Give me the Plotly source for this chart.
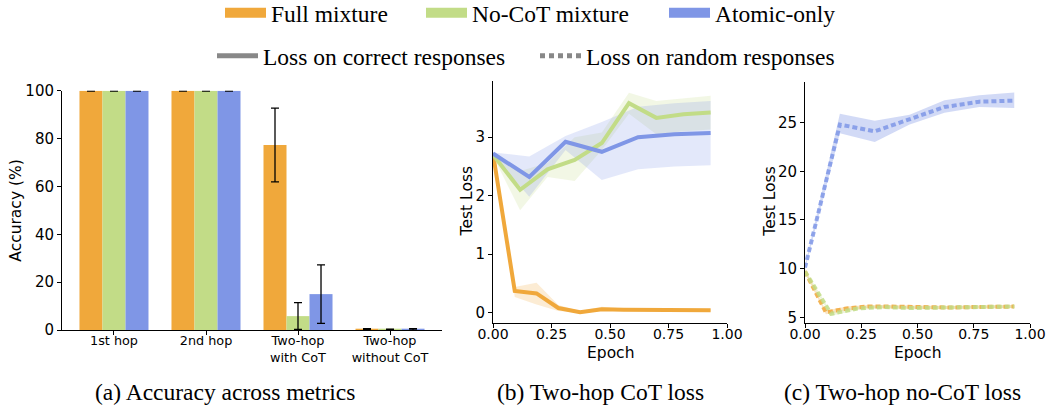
import plotly.graph_objects as go

# ---------------- data ----------------
categories = ["1st hop", "2nd hop", "Two-hop<br>with CoT", "Two-hop<br>without CoT"]
acc_full = [100.0, 100.0, 77.3, 0.3]
acc_full_err = [0.2, 0.2, 15.4, 0.3]
acc_nocot = [100.0, 100.0, 5.8, 0.2]
acc_nocot_err = [0.2, 0.2, 5.6, 0.2]
acc_atomic = [100.0, 100.0, 15.0, 0.25]
acc_atomic_err = [0.2, 0.2, 12.2, 0.3]

x_full = [0, 0.093, 0.186, 0.279, 0.372, 0.465, 0.558, 0.651, 0.744, 0.837, 0.93]
x_nocot = [0, 0.116, 0.233, 0.349, 0.465, 0.581, 0.698, 0.814, 0.93]
x_atomic = [0, 0.155, 0.31, 0.465, 0.62, 0.775, 0.93]

# (b) Two-hop CoT loss (loss on correct responses)
cot_full = [2.72, 0.37, 0.33, 0.08, 0.01, 0.06, 0.05, 0.05, 0.04, 0.04, 0.04]
cot_full_lo = [2.70, 0.27, 0.14, 0.03, 0.00, 0.03, 0.03, 0.03, 0.02, 0.02, 0.02]
cot_full_hi = [2.74, 0.44, 0.51, 0.13, 0.03, 0.10, 0.07, 0.07, 0.06, 0.06, 0.06]
cot_nocot = [2.70, 2.10, 2.45, 2.61, 2.90, 3.58, 3.33, 3.39, 3.42]
cot_nocot_lo = [2.68, 1.75, 2.32, 2.25, 2.78, 3.40, 3.05, 3.10, 3.13]
cot_nocot_hi = [2.72, 2.42, 2.56, 3.00, 3.08, 3.76, 3.62, 3.67, 3.71]
cot_atomic = [2.72, 2.32, 2.92, 2.75, 3.00, 3.05, 3.07]
cot_atomic_lo = [2.70, 1.98, 2.78, 2.27, 2.45, 2.50, 2.52]
cot_atomic_hi = [2.74, 2.67, 3.02, 3.26, 3.52, 3.58, 3.62]

# (c) Two-hop no-CoT loss (loss on random responses)
noc_full = [9.7, 5.5, 5.9, 6.1, 6.1, 6.05, 6.0, 6.0, 6.05, 6.05, 6.1]
noc_full_lo = [9.5, 5.3, 5.7, 5.95, 5.95, 5.9, 5.85, 5.85, 5.9, 5.9, 5.95]
noc_full_hi = [9.9, 5.7, 6.1, 6.25, 6.25, 6.2, 6.15, 6.15, 6.2, 6.2, 6.25]
noc_nocot = [9.7, 5.35, 5.9, 6.05, 5.95, 6.0, 6.05, 6.05, 6.1]
noc_nocot_lo = [9.5, 5.15, 5.75, 5.9, 5.8, 5.85, 5.9, 5.9, 5.95]
noc_nocot_hi = [9.9, 5.55, 6.05, 6.2, 6.1, 6.15, 6.2, 6.2, 6.25]
noc_atomic = [10.1, 24.8, 24.1, 25.3, 26.6, 27.15, 27.25]
noc_atomic_lo = [9.9, 23.9, 23.0, 24.8, 26.0, 26.6, 26.5]
noc_atomic_hi = [10.3, 25.9, 25.2, 25.8, 27.3, 27.8, 28.1]

series_names = ["Full mixture", "No-CoT mixture", "Atomic-only"]
style_names = ["Loss on correct responses", "Loss on random responses"]
y_ticks_a = [0, 20, 40, 60, 80, 100]
x_ticks_loss = [0, 0.25, 0.5, 0.75, 1.0]
y_ticks_b = [0, 1, 2, 3]
y_ticks_c = [5, 10, 15, 20, 25]
captions = ["(a) Accuracy across metrics", "(b) Two-hop CoT loss", "(c) Two-hop no-CoT loss"]

# ---------------- style ----------------
ORANGE = "#F0A83B"
GREEN = "#C2DC87"
BLUE = "#7F96E6"
GRAY = "#888888"

def rgba(hexc, a):
    h = hexc.lstrip("#")
    r, g, b = int(h[0:2], 16), int(h[2:4], 16), int(h[4:6], 16)
    return f"rgba({r},{g},{b},{a})"

W, H = 1050, 412
def px_x(p):
    return p / W
def px_y(p):
    return 1 - p / H

TICK_FONT = dict(family="DejaVu Sans", size=15, color="black")
SERIF = "Liberation Serif"

fig = go.Figure()

# ---------------- panel (a) bars ----------------
for vals, errs, col in [(acc_full, acc_full_err, ORANGE),
                        (acc_nocot, acc_nocot_err, GREEN),
                        (acc_atomic, acc_atomic_err, BLUE)]:
    fig.add_trace(go.Bar(
        x=categories, y=vals, marker=dict(color=col, line=dict(width=0)),
        error_y=dict(type="data", array=errs, color="black", thickness=1.3, width=4),
        xaxis="x", yaxis="y", showlegend=False, cliponaxis=False))

# ---------------- panel (b) and (c) ----------------
def band(xs, lo, hi, col, xa, ya, a=0.22):
    fig.add_trace(go.Scatter(
        x=list(xs) + list(xs)[::-1], y=list(hi) + list(lo)[::-1],
        fill="toself", fillcolor=rgba(col, a), line=dict(width=0),
        mode="lines", hoverinfo="skip", showlegend=False, xaxis=xa, yaxis=ya))

def line(xs, ys, col, xa, ya, dash="solid", a=1.0):
    fig.add_trace(go.Scatter(
        x=xs, y=ys, mode="lines", line=dict(color=rgba(col, a), width=4, dash=dash),
        showlegend=False, xaxis=xa, yaxis=ya))

# (b)
band(x_full, cot_full_lo, cot_full_hi, ORANGE, "x2", "y2")
band(x_nocot, cot_nocot_lo, cot_nocot_hi, GREEN, "x2", "y2")
band(x_atomic, cot_atomic_lo, cot_atomic_hi, BLUE, "x2", "y2")
line(x_full, cot_full, ORANGE, "x2", "y2")
line(x_nocot, cot_nocot, GREEN, "x2", "y2")
line(x_atomic, cot_atomic, BLUE, "x2", "y2")

# (c)
band(x_atomic, noc_atomic_lo, noc_atomic_hi, BLUE, "x3", "y3", a=0.35)
band(x_full, noc_full_lo, noc_full_hi, ORANGE, "x3", "y3", a=0.3)
band(x_nocot, noc_nocot_lo, noc_nocot_hi, GREEN, "x3", "y3", a=0.3)
line(x_atomic, noc_atomic, BLUE, "x3", "y3", dash="5px,3px", a=0.85)
line(x_full, noc_full, ORANGE, "x3", "y3", dash="5px,3px", a=0.85)
line(x_nocot, noc_nocot, GREEN, "x3", "y3", dash="5px,3px", a=0.85)

# ---------------- legends (one per entry, for exact placement) ----------------
legend_font = dict(family=SERIF, size=23.5, color="black")
row1_y = px_y(13)
row2_y = px_y(56)
patch_starts = [224, 425, 668]
legend_keys = ["legend", "legend2", "legend3"]
for name, col, key in zip(series_names, [ORANGE, GREEN, BLUE], legend_keys):
    fig.add_trace(go.Scatter(x=[None], y=[None], mode="lines", name=name,
                             line=dict(color=col, width=10), legend=key,
                             xaxis="x", yaxis="y"))
style_starts = [216, 539]
for name, dash, key in zip(style_names, ["solid", "5px,4px"], ["legend4", "legend5"]):
    fig.add_trace(go.Scatter(x=[None], y=[None], mode="lines", name=name,
                             line=dict(color=GRAY, width=5, dash=dash), legend=key,
                             xaxis="x", yaxis="y"))

LEG_OFF = 4
ITEMW = 41
layout_legends = {}
for key, start in zip(legend_keys, patch_starts):
    layout_legends[key] = dict(x=px_x(start - LEG_OFF), xanchor="left", y=row1_y, yanchor="middle",
                               xref="container", yref="container",
                               font=legend_font, bgcolor="rgba(0,0,0,0)", itemwidth=ITEMW)
for key, start in zip(["legend4", "legend5"], style_starts):
    layout_legends[key] = dict(x=px_x(start - LEG_OFF), xanchor="left", y=row2_y, yanchor="middle",
                               xref="container", yref="container",
                               font=legend_font, bgcolor="rgba(0,0,0,0)", itemwidth=ITEMW)

axis_common = dict(showline=True, linecolor="black", linewidth=1, ticks="outside",
                   ticklen=4, tickwidth=1, tickcolor="black", showgrid=False,
                   zeroline=False, mirror=False, tickfont=TICK_FONT, automargin=False)

annotations = [
    dict(text="Accuracy (%)", x=px_x(15.7), y=px_y(210), textangle=-90),
    dict(text="Test Loss", x=px_x(466.7), y=px_y(201.7), textangle=-90),
    dict(text="Test Loss", x=px_x(770), y=px_y(201.7), textangle=-90),
    dict(text="Epoch", x=px_x(610), y=px_y(353)),
    dict(text="Epoch", x=px_x(917.5), y=px_y(353)),
]
for a in annotations:
    a.update(xref="paper", yref="paper", showarrow=False, xanchor="center", yanchor="middle",
             font=dict(family="DejaVu Sans", size=15.5, color="black"))
for cap, cx in zip(captions, [225, 600, 902.5]):
    annotations.append(dict(text=cap, x=px_x(cx), y=px_y(392), xref="paper", yref="paper",
                            showarrow=False, xanchor="center", yanchor="middle",
                            font=dict(family=SERIF, size=23.5, color="black")))

fig.update_layout(
    width=W, height=H, margin=dict(l=0, r=0, t=0, b=0, autoexpand=False),
    paper_bgcolor="white", plot_bgcolor="white",
    barmode="group", bargap=0.25, bargroupgap=0,
    xaxis=dict(axis_common, domain=[px_x(62), px_x(442)], range=[-0.565, 3.565],
               anchor="y", ticklabelstandoff=-5,
               tickfont=dict(family="DejaVu Sans", size=12.8, color="black")),
    yaxis=dict(axis_common, domain=[px_y(330), px_y(90.7)], range=[0, 100],
               tickvals=y_ticks_a, anchor="x"),
    xaxis2=dict(axis_common, domain=[px_x(493), px_x(727)], range=[0, 1],
                tickvals=x_ticks_loss, tickformat=".2f", anchor="y2", ticklabelstandoff=-6,
                tickfont=dict(family="DejaVu Sans", size=14, color="black")),
    yaxis2=dict(axis_common, domain=[px_y(323), px_y(81)], range=[-0.176, 3.96],
                tickvals=y_ticks_b, anchor="x2"),
    xaxis3=dict(axis_common, domain=[px_x(805), px_x(1030)], range=[0, 1],
                tickvals=x_ticks_loss, tickformat=".2f", anchor="y3", ticklabelstandoff=-6,
                tickfont=dict(family="DejaVu Sans", size=14, color="black")),
    yaxis3=dict(axis_common, domain=[px_y(323.3), px_y(81.7)], range=[4.38, 29.2],
                tickvals=y_ticks_c, anchor="x3"),
    annotations=annotations,
    **layout_legends,
)

fig.write_html("out.html", config={"displayModeBar": False},
               post_script="document.body.style.margin='0';")
